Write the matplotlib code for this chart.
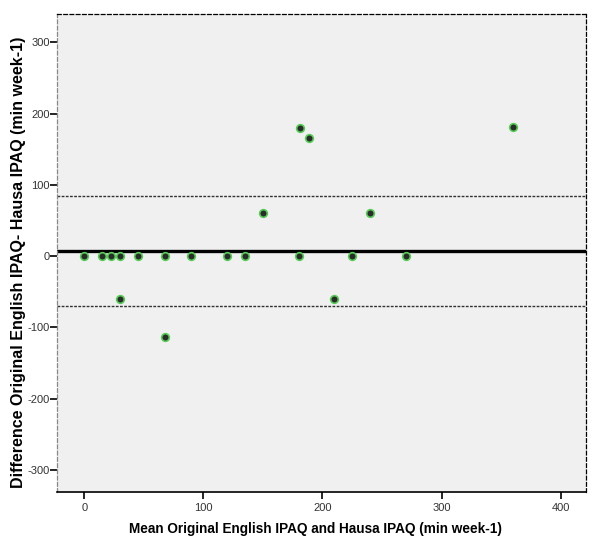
import matplotlib
matplotlib.use("Agg")
import matplotlib.pyplot as plt
import numpy as np

mean_vals = [0, 15, 22.5, 30, 30, 45, 67.5, 67.5, 90, 120, 135, 150, 180, 181, 188.5, 210, 225, 240, 270, 360]
diff_vals = [0, 0, 0, 0, -60, 0, 0, -113, 0, 0, 0, 60, 0, 180, 165, -60, 0, 60, 0, 181]
bias = 7.2
upper_loa = 84
lower_loa = -70
x_ticks = [0, 100, 200, 300, 400]
y_ticks = [-300, -200, -100, 0, 100, 200, 300]

plt.rcParams['font.family'] = ['Liberation Sans', 'DejaVu Sans']
plt.rcParams['axes.unicode_minus'] = False

fig = plt.figure(figsize=(6, 5.56), dpi=100)
ax = fig.add_axes([0.0955, 0.115, 0.8805, 0.859])
ax.set_facecolor('#f0f0f0')

ax.axhline(bias, color='black', lw=2.4, zorder=2)
ax.axhline(upper_loa, color='#333333', lw=1.0, ls=(0, (2, 1)), zorder=2)
ax.axhline(lower_loa, color='#333333', lw=1.0, ls=(0, (2, 1)), zorder=2)

ax.plot(mean_vals, diff_vals, 'o', ms=5.5, mfc='#2b2b2b', mec='#55cc55', mew=1.2, zorder=3, ls='none')

ax.set_xlim(-22.7, 421)
ax.set_ylim(-331, 339)
ax.set_xticks(x_ticks)
ax.set_yticks(y_ticks)
ax.tick_params(axis='both', labelsize=8, length=5, width=1.2, color='black', labelcolor='#333333')
ax.tick_params(axis='y', pad=0.5)
ax.tick_params(axis='x', pad=3)

for side in ['top', 'right']:
    ax.spines[side].set_linestyle((0, (3, 2)))
    ax.spines[side].set_color('black')
    ax.spines[side].set_linewidth(0.9)
ax.spines['left'].set_linestyle((0, (3, 2)))
ax.spines['left'].set_color('#888888')
ax.spines['left'].set_linewidth(0.9)
ax.spines['bottom'].set_color('black')
ax.spines['bottom'].set_linewidth(1.2)

ax.set_xlabel('Mean Original English IPAQ and Hausa IPAQ (min week-1)', fontsize=9.8, fontweight='bold')
ax.set_ylabel('Difference Original English IPAQ- Hausa IPAQ (min week-1)', fontsize=11.5, fontweight='bold')
ax.xaxis.set_label_coords(0.488, -0.062)
ax.yaxis.set_label_coords(-0.059, 0.48)

fig.savefig('out.png', dpi=100)
